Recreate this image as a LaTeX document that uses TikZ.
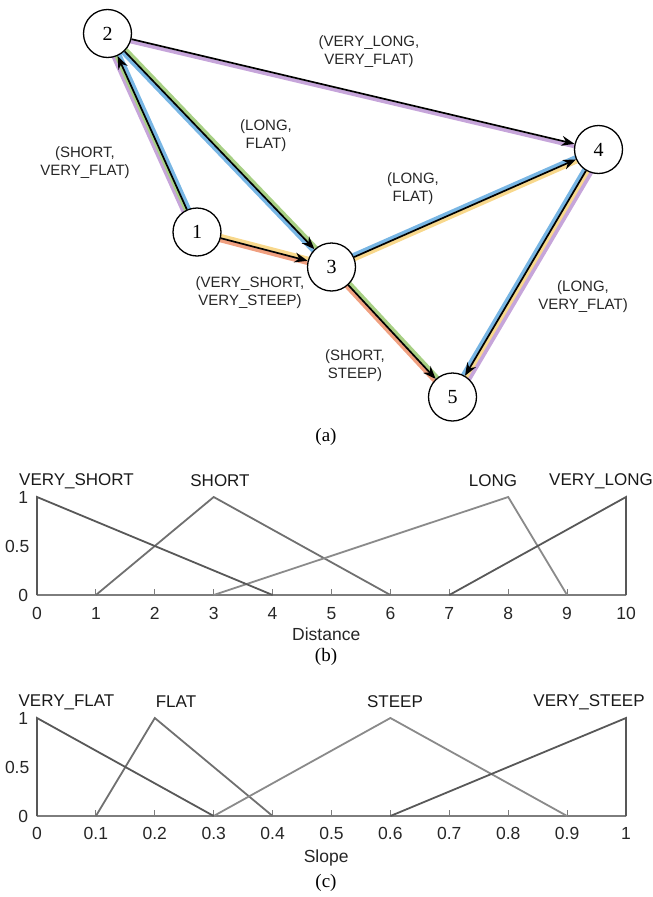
\documentclass[tikz,border=0pt]{standalone}
\usepackage{fontspec}
\setmainfont{Liberation Serif}
\setsansfont{Liberation Sans}
\usetikzlibrary{arrows.meta,calc,backgrounds}
\definecolor{rpurple}{RGB}{198,165,218}
\definecolor{rblue}{RGB}{120,182,228}
\definecolor{rgreen}{RGB}{168,208,132}
\definecolor{ryellow}{RGB}{248,216,140}
\definecolor{rred}{RGB}{240,160,128}
\definecolor{mfdark}{RGB}{88,88,88}
\definecolor{mfmid}{RGB}{112,112,112}
\definecolor{mflight}{RGB}{138,138,138}
\definecolor{axisgray}{RGB}{125,125,125}
\newcommand\rstrip[4]{\draw[line width=3.6pt,#4] ($(#1.center)!#3!90:(#2.center)$) -- ($(#2.center)!#3!-90:(#1.center)$);}
\begin{document}
\begin{tikzpicture}[x=1pt,y=-1pt,
  vtx/.style={circle,draw,line width=1.3pt,fill=white,minimum size=48pt,inner sep=0pt,font=\fontsize{20}{20}\selectfont},
  lbl/.style={font=\sffamily\fontsize{15}{18}\selectfont,align=center,text=black!85},
  arr/.style={line width=1.7pt,-{Stealth[length=13pt,width=10pt]}},
  captxt/.style={font=\fontsize{19}{19}\selectfont},
  mftxt/.style={font=\sffamily\fontsize{17}{17}\selectfont,text=black!90},
  ticklbl/.style={font=\sffamily\fontsize{17.5}{17.5}\selectfont,text=black!85},
  mfline/.style={line width=1.8pt,line join=miter},
  axisline/.style={line width=2pt,axisgray},
  tickmark/.style={line width=1pt,axisgray}
]
\useasboundingbox (0,0) rectangle (653,897);
% ---------- graph (a)
\node[vtx] (n1) at (197,232) {1};
\node[vtx] (n2) at (107.5,33.5) {2};
\node[vtx] (n3) at (331.5,267) {3};
\node[vtx] (n4) at (598.5,149.5) {4};
\node[vtx] (n5) at (452.5,397) {5};
\begin{pgfonlayer}{background}
\rstrip{n1}{n2}{4.2pt}{rpurple}
\rstrip{n1}{n2}{1.2pt}{rgreen}
\rstrip{n1}{n2}{-2.4pt}{rblue}
\rstrip{n2}{n3}{2.4pt}{rgreen}
\rstrip{n2}{n3}{-2.4pt}{rblue}
\rstrip{n2}{n4}{-2.6pt}{rpurple}
\rstrip{n1}{n3}{2.4pt}{ryellow}
\rstrip{n1}{n3}{-2.4pt}{rred}
\rstrip{n3}{n4}{2.4pt}{rblue}
\rstrip{n3}{n4}{-2.4pt}{ryellow}
\rstrip{n3}{n5}{2.4pt}{rgreen}
\rstrip{n3}{n5}{-2.4pt}{rred}
\rstrip{n4}{n5}{-2.4pt}{rblue}
\rstrip{n4}{n5}{2.4pt}{ryellow}
\rstrip{n4}{n5}{5.6pt}{rpurple}
\end{pgfonlayer}
\draw[arr] (n1) -- (n2);
\draw[arr] (n2) -- (n3);
\draw[arr] (n2) -- (n4);
\draw[arr] (n1) -- (n3);
\draw[arr] (n3) -- (n4);
\draw[arr] (n3) -- (n5);
\draw[arr] (n4) -- (n5);
\node[lbl] (l24) at (369,52) {(VERY\_LONG,\\VERY\_FLAT)};
\node[lbl] (l12) at (85,163) {(SHORT,\\VERY\_FLAT)};
\node[lbl] (l23) at (266,136) {(LONG,\\FLAT)};
\node[lbl] (l34) at (413,189) {(LONG,\\FLAT)};
\node[lbl] (l13) at (250,293) {(VERY\_SHORT,\\VERY\_STEEP)};
\node[lbl] (l45) at (583,297) {(LONG,\\VERY\_FLAT)};
\node[lbl] (l35) at (355,366) {(SHORT,\\STEEP)};
\node[captxt] (capa) at (326,437) {(a)};
% ---------- plot (b)
\begin{scope}[shift={(37pt,-595pt)},x=58.9pt,y=98pt]
  \draw[axisline] (0,0) -- (10,0);
  \foreach \i in {1,...,10} \draw[tickmark] (\i,0) -- (\i,0.06);
  \foreach \i in {0,...,10} \node[ticklbl] (bt\i) at (\i,-0.185) {\i};
  \node[ticklbl,anchor=east] (by1) at (-0.09,1) {1};
  \node[ticklbl,anchor=east] (by05) at (-0.07,0.5) {0.5};
  \node[ticklbl,anchor=east] (by0) at (-0.09,0) {0};
  \draw[mfline,mfmid] (1,0) -- (3,1) -- (6,0);
  \draw[mfline,mflight] (3,0) -- (8,1) -- (9,0);
  \draw[mfline,mfdark] (0,0) -- (0,1) -- (4,0);
  \draw[mfline,mfdark] (7,0) -- (10,1) -- (10,0);
  \node[ticklbl] (bxl) at (4.91,-0.40) {Distance};
\end{scope}
\node[mftxt] (vs) at (76.5,481) {VERY\_SHORT};
\node[mftxt] (sh) at (220,481) {SHORT};
\node[mftxt] (lo) at (493,481) {LONG};
\node[mftxt] (vl) at (601,481) {VERY\_LONG};
\node[captxt] (capb) at (326,657) {(b)};
% ---------- plot (c)
\begin{scope}[shift={(37pt,-816pt)},x=589pt,y=98pt]
  \draw[axisline] (0,0) -- (1,0);
  \foreach \i in {1,...,10} \draw[tickmark] (\i/10,0) -- (\i/10,0.06);
  \node[ticklbl] (ct0) at (0,-0.175) {0};
  \foreach \i in {1,...,9} \node[ticklbl] (ct\i) at (\i/10,-0.175) {0.\i};
  \node[ticklbl] (ct10) at (1,-0.175) {1};
  \node[ticklbl,anchor=east] (cy1) at (-0.009,1) {1};
  \node[ticklbl,anchor=east] (cy05) at (-0.007,0.5) {0.5};
  \node[ticklbl,anchor=east] (cy0) at (-0.009,0) {0};
  \draw[mfline,mfmid] (0.1,0) -- (0.2,1) -- (0.4,0);
  \draw[mfline,mflight] (0.3,0) -- (0.6,1) -- (0.9,0);
  \draw[mfline,mfdark] (0,0) -- (0,1) -- (0.3,0);
  \draw[mfline,mfdark] (0.6,0) -- (1,1) -- (1,0);
  \node[ticklbl] (cxl) at (0.491,-0.43) {Slope};
\end{scope}
\node[mftxt] (vf) at (66.5,702) {VERY\_FLAT};
\node[mftxt] (fl) at (176,702) {FLAT};
\node[mftxt] (st) at (395,702) {STEEP};
\node[mftxt] (vst) at (589,702) {VERY\_STEEP};
\node[captxt] (capc) at (326,883) {(c)};
\end{tikzpicture}
\end{document}
